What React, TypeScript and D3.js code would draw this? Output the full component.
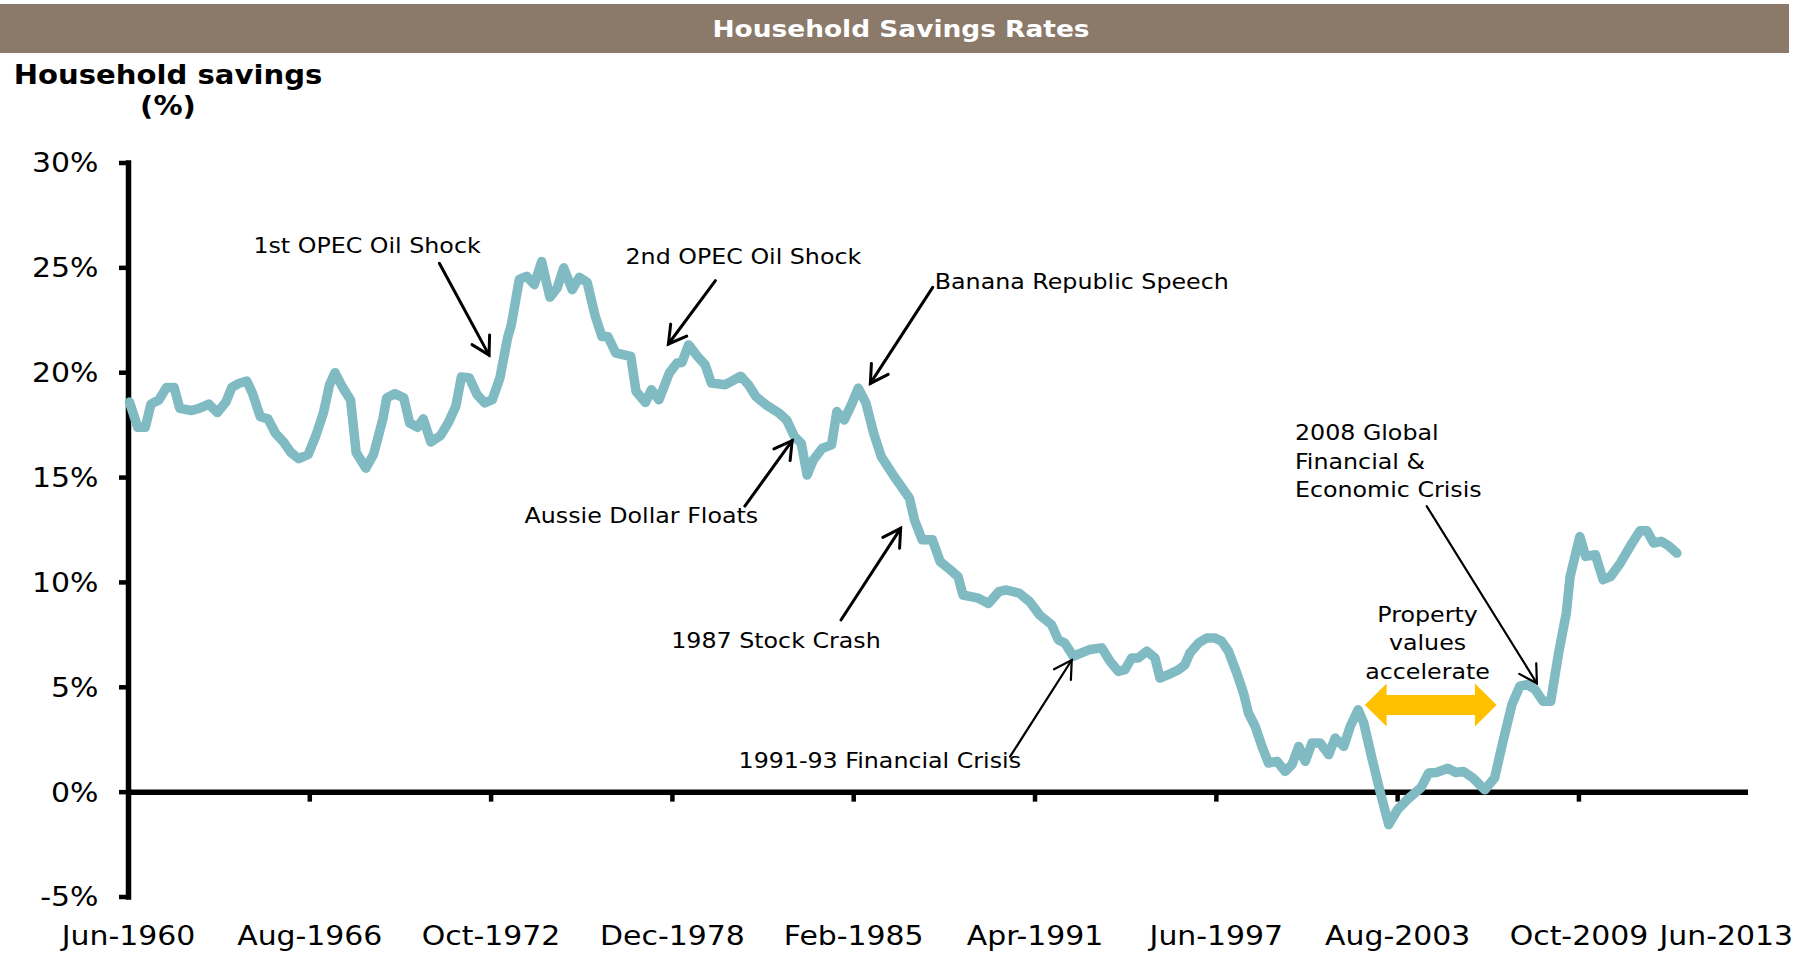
import React from 'react';
import * as d3 from 'd3';

const W = 1807;
const H = 953;

const years = [
  1960.45, 1960.73, 1960.99, 1961.18, 1961.45, 1961.71, 1961.97, 1962.16, 1962.56, 1962.82,
  1963.15, 1963.44, 1963.73, 1963.93, 1964.19, 1964.44, 1964.64, 1964.90, 1965.16, 1965.42,
  1965.69, 1965.94, 1966.21, 1966.53, 1966.79, 1967.05, 1967.25, 1967.44, 1967.70, 1967.97,
  1968.16, 1968.49, 1968.75, 1969.07, 1969.20, 1969.47, 1969.78, 1969.98, 1970.25, 1970.44,
  1970.70, 1971.03, 1971.29, 1971.55, 1971.74, 1972.01, 1972.27, 1972.53, 1972.79, 1973.05,
  1973.31, 1973.44, 1973.71, 1973.96, 1974.22, 1974.47, 1974.75, 1975.00, 1975.22, 1975.51,
  1975.75, 1976.02, 1976.29, 1976.52, 1976.72, 1976.99, 1977.50, 1977.68, 1978.00, 1978.20,
  1978.46, 1978.81, 1979.07, 1979.24, 1979.47, 1979.77, 1980.03, 1980.24, 1980.72, 1981.24,
  1981.50, 1981.76, 1982.11, 1982.55, 1982.80, 1983.07, 1983.30, 1983.50, 1983.71, 1984.02,
  1984.33, 1984.51, 1984.76, 1985.03, 1985.24, 1985.50, 1985.76, 1986.02, 1986.46, 1986.98,
  1987.15, 1987.41, 1987.76, 1988.02, 1988.37, 1988.63, 1988.80, 1989.32, 1989.67, 1990.02,
  1990.28, 1990.72, 1991.07, 1991.41, 1991.81, 1992.04, 1992.26, 1992.55, 1992.83, 1993.11,
  1993.52, 1993.80, 1994.08, 1994.31, 1994.54, 1994.76, 1995.05, 1995.33, 1995.50, 1995.78,
  1996.13, 1996.35, 1996.52, 1996.81, 1997.09, 1997.37, 1997.60, 1997.83, 1998.11, 1998.34,
  1998.51, 1998.74, 1998.97, 1999.19, 1999.48, 1999.76, 1999.99, 2000.22, 2000.44, 2000.67,
  2000.95, 2001.24, 2001.46, 2001.75, 2001.97, 2002.24, 2002.43, 2002.72, 2002.99, 2003.28,
  2003.58, 2003.91, 2004.37, 2004.64, 2004.90, 2005.29, 2005.56, 2005.82, 2006.15, 2006.55,
  2006.88, 2007.14, 2007.47, 2007.74, 2008.00, 2008.26, 2008.53, 2008.79, 2009.06, 2009.32,
  2009.45, 2009.78, 2009.98, 2010.31, 2010.57, 2010.83, 2011.16, 2011.56, 2011.83, 2012.06,
  2012.29, 2012.55, 2012.82, 2013.08,
];

// Household savings ratio (%)
const savings = [
  18.6, 17.4, 17.4, 18.5, 18.7, 19.3, 19.3, 18.3, 18.2, 18.3,
  18.5, 18.1, 18.6, 19.3, 19.5, 19.6, 19.0, 17.9, 17.8, 17.1,
  16.7, 16.2, 15.9, 16.1, 17.0, 18.1, 19.4, 20.0, 19.3, 18.7,
  16.2, 15.45, 16.1, 17.8, 18.8, 19.0, 18.8, 17.6, 17.4, 17.8,
  16.7, 17.0, 17.6, 18.4, 19.8, 19.75, 18.96, 18.56, 18.72, 19.75,
  21.66, 22.3, 24.45, 24.6, 24.2, 25.3, 23.6, 24.05, 25.0, 23.96,
  24.55, 24.3, 22.7, 21.73, 21.73, 20.94, 20.78, 19.11, 18.58, 19.19,
  18.71, 19.98, 20.46, 20.49, 21.33, 20.78, 20.38, 19.51, 19.43, 19.83,
  19.43, 18.86, 18.46, 18.07, 17.75, 16.95, 16.63, 15.12, 15.84, 16.4,
  16.56, 18.15, 17.75, 18.55, 19.27, 18.55, 17.12, 16.0, 15.05, 14.01,
  12.98, 12.03, 12.03, 11.0, 10.6, 10.28, 9.4, 9.25, 9.0, 9.56,
  9.64, 9.48, 9.08, 8.44, 7.99, 7.27, 7.11, 6.48, 6.64, 6.8,
  6.88, 6.24, 5.76, 5.84, 6.4, 6.4, 6.72, 6.4, 5.44, 5.6,
  5.84, 6.08, 6.64, 7.11, 7.35, 7.35, 7.19, 6.72, 5.68, 4.73,
  3.77, 3.13, 2.18, 1.39, 1.47, 0.99, 1.31, 2.18, 1.47, 2.34,
  2.34, 1.79, 2.58, 2.18, 3.13, 3.93, 3.3, 1.55, 0.0, -1.55,
  -0.83, -0.36, 0.2, 0.91, 0.94, 1.14, 0.94, 0.99, 0.67, 0.11,
  0.67, 2.26, 4.17, 5.05, 5.13, 4.89, 4.33, 4.33, 6.64, 8.54,
  10.29, 12.19, 11.24, 11.32, 10.13, 10.29, 10.93, 11.88, 12.47, 12.47,
  11.88, 11.96, 11.72, 11.4,
];

const xDomain = [1960.417, 2015.5];
const yDomain = [-5, 30];
const xTickDates = [1960.417, 1966.583, 1972.75, 1978.917, 1985.083, 1991.25, 1997.417, 2003.583, 2009.75];
const xTickLabels = ['Jun-1960', 'Aug-1966', 'Oct-1972', 'Dec-1978', 'Feb-1985', 'Apr-1991', 'Jun-1997', 'Aug-2003', 'Oct-2009'];
const xEndLabel = 'Jun-2013';
const yTicks = [-5, 0, 5, 10, 15, 20, 25, 30];

const chartTitle = 'Household Savings Rates';
const axisTitle = ['Household savings', '(%)'];

// Annotations: text lines, text anchor in data coords, arrow tail -> tip in data coords
const annLines = [
  ['1st OPEC Oil Shock'],
  ['2nd OPEC Oil Shock'],
  ['Banana Republic Speech'],
  ['Aussie Dollar Floats'],
  ['1987 Stock Crash'],
  ['1991-93 Financial Crisis'],
  ['2008 Global', 'Financial &', 'Economic Crisis'],
  ['Property', 'values', 'accelerate'],
];
const annAt = [
  [1968.53, 25.69], [1981.33, 25.17], [1987.84, 23.98], [1977.86, 12.85],
  [1982.44, 6.89], [1985.97, 1.13], [2000.09, 16.79], [2004.6, 8.13],
];
const annAnchor = ['middle', 'middle', 'start', 'middle', 'middle', 'middle', 'start', 'middle'];
const annArrows = [
  [[1970.99, 25.22], [1972.68, 20.84]],
  [[1980.38, 24.39], [1978.78, 21.37]],
  [[1987.77, 24.07], [1985.65, 19.49]],
  [[1981.38, 13.64], [1982.99, 16.76]],
  [[1984.65, 8.21], [1986.68, 12.58]],
  [[1990.4, 1.69], [1992.5, 6.3]],
  [[2004.57, 13.64], [2008.32, 5.19]],
  null,
];
const annArrowWidth = [3, 3, 3, 3, 3, 2.2, 2.2, 0];
const propertyArrow = { from: 2002.47, to: 2006.95, level: 4.15 };

const FONT = 'DejaVu Sans, Verdana, sans-serif';

function T({ x, y, sx = 1, children, ...rest }: any) {
  return (
    <text transform={`translate(${x},${y}) scale(${sx},1)`} fontFamily={FONT} {...rest}>
      {children}
    </text>
  );
}

export default function App() {
  const x = d3.scaleLinear().domain(xDomain).range([128.5, 1748]);
  const y = d3.scaleLinear().domain(yDomain).range([897, 163]);
  const data = years.map((yr, i) => ({ yr, v: savings[i] }));
  const line = d3.line<any>().x((d) => x(d.yr)).y((d) => y(d.v));

  const headPath = (x1: number, y1: number, x2: number, y2: number) => {
    const a = Math.atan2(y2 - y1, x2 - x1);
    const L = 20;
    const s = Math.PI / 6;
    const p1 = [x2 + L * Math.cos(a + Math.PI - s), y2 + L * Math.sin(a + Math.PI - s)];
    const p2 = [x2 + L * Math.cos(a + Math.PI + s), y2 + L * Math.sin(a + Math.PI + s)];
    return `M${p1[0]},${p1[1]}L${x2},${y2}L${p2[0]},${p2[1]}`;
  };

  const px1 = x(propertyArrow.from);
  const px2 = x(propertyArrow.to);
  const pyc = y(propertyArrow.level);
  const hl = 21.7, hh = 21.5, sh = 10;
  const dbl = [
    [px1, pyc], [px1 + hl, pyc - hh], [px1 + hl, pyc - sh], [px2 - hl, pyc - sh], [px2 - hl, pyc - hh],
    [px2, pyc], [px2 - hl, pyc + hh], [px2 - hl, pyc + sh], [px1 + hl, pyc + sh], [px1 + hl, pyc + hh],
  ].map((p) => p.join(',')).join(' ');

  const x0 = x(xDomain[0]);
  const xEnd = x(xDomain[1]);
  const y0 = y(0);

  return (
    <svg width={W} height={H} style={{ position: 'absolute', left: 0, top: 0, background: '#fff' }}>
      <rect x={0} y={0} width={W} height={H} fill="#fff" />
      {/* Title bar */}
      <rect x={0} y={4} width={1789} height={49} fill="#8B7969" />
      <T x={901} y={37} sx={1.15} fontSize={23} fontWeight="bold" fill="#fff" textAnchor="middle">
        {chartTitle}
      </T>
      {/* Axis title */}
      <T x={168} y={84} sx={1.12} fontSize={26} fontWeight="bold" fill="#000" textAnchor="middle">
        {axisTitle[0]}
      </T>
      <T x={168} y={115} sx={1.12} fontSize={26} fontWeight="bold" fill="#000" textAnchor="middle">
        {axisTitle[1]}
      </T>

      {/* Y axis */}
      <line x1={x0} x2={x0} y1={y(yDomain[1])} y2={y(yDomain[0])} stroke="#000" strokeWidth={5.5} strokeLinecap="square" />
      {yTicks.map((t) => (
        <g key={t}>
          <line x1={x0 - 9.5} x2={x0} y1={y(t)} y2={y(t)} stroke="#000" strokeWidth={4.5} />
          <T x={98.5} y={y(t) + 9.4} sx={1.15} fontSize={26} fill="#000" textAnchor="end">
            {`${t}%`}
          </T>
        </g>
      ))}

      {/* X axis */}
      <line x1={x0} x2={xEnd} y1={y0} y2={y0} stroke="#000" strokeWidth={5.5} />
      {xTickDates.map((d, i) => (
        <g key={d}>
          {i > 0 && <line x1={x(d)} x2={x(d)} y1={y0} y2={y0 + 9.5} stroke="#000" strokeWidth={4.5} />}
          <T x={x(d)} y={945} sx={1.15} fontSize={26} fill="#000" textAnchor="middle">
            {xTickLabels[i]}
          </T>
        </g>
      ))}
      <T x={W - 14} y={945} sx={1.15} fontSize={26} fill="#000" textAnchor="end">
        {xEndLabel}
      </T>

      {/* Series */}
      <path d={line(data) || ''} fill="none" stroke="#80BAC2" strokeWidth={9.5} strokeLinejoin="round" strokeLinecap="round" />

      {/* Property double arrow */}
      <polygon points={dbl} fill="#FFC000" />

      {/* Annotations */}
      {annLines.map((lines, i) => {
        const [ax, ay] = annAt[i];
        const arr = annArrows[i];
        return (
          <g key={i}>
            {lines.map((ln, j) => (
              <T key={j} x={x(ax)} y={y(ay) + j * 28.5} sx={1.08} fontSize={22} fill="#000" textAnchor={annAnchor[i]}>
                {ln}
              </T>
            ))}
            {arr && (
              <g stroke="#000" strokeWidth={annArrowWidth[i]} fill="none" strokeLinecap="round">
                <line x1={x(arr[0][0])} y1={y(arr[0][1])} x2={x(arr[1][0])} y2={y(arr[1][1])} />
                <path d={headPath(x(arr[0][0]), y(arr[0][1]), x(arr[1][0]), y(arr[1][1]))} />
              </g>
            )}
          </g>
        );
      })}
    </svg>
  );
}
